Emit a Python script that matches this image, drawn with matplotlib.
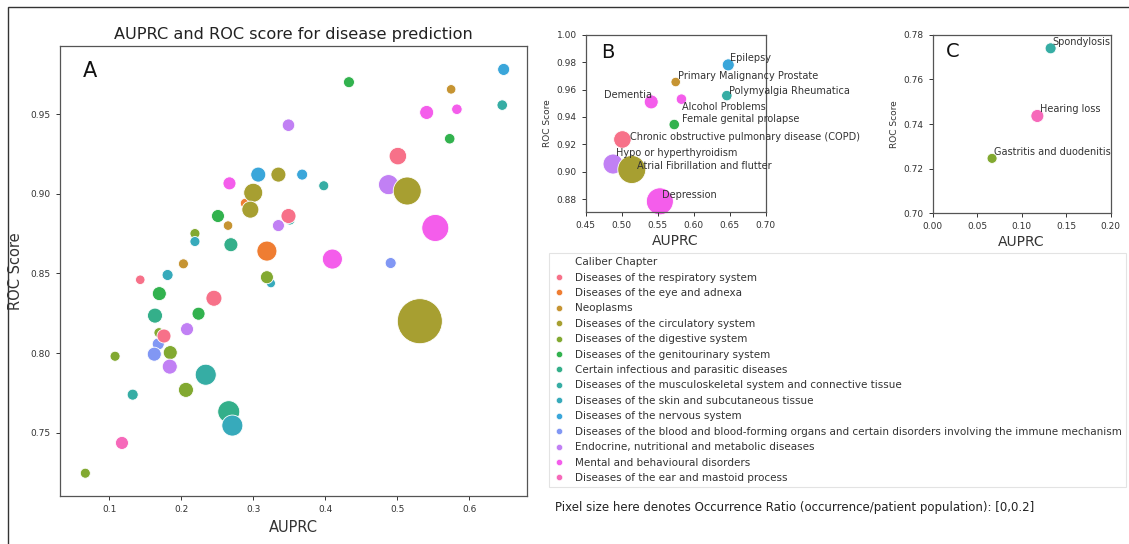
import matplotlib
matplotlib.use("Agg")
import matplotlib.pyplot as plt
from matplotlib.lines import Line2D
from matplotlib.patches import Rectangle
import numpy as np
import seaborn as sns

# Caliber chapters (hue order)
chapters = [
    "Diseases of the respiratory system",
    "Diseases of the eye and adnexa",
    "Neoplasms",
    "Diseases of the circulatory system",
    "Diseases of the digestive system",
    "Diseases of the genitourinary system",
    "Certain infectious and parasitic diseases",
    "Diseases of the musculoskeletal system and connective tissue",
    "Diseases of the skin and subcutaneous tissue",
    "Diseases of the nervous system",
    "Diseases of the blood and blood-forming organs and certain disorders involving the immune mechanism",
    "Endocrine, nutritional and metabolic diseases",
    "Mental and behavioural disorders",
    "Diseases of the ear and mastoid process",
]

# One entry per disease
disease = [
    "Epilepsy", "Polymyalgia Rheumatica", "", "Primary Malignancy Prostate",
    "Dementia", "Alcohol Problems", "Female genital prolapse",
    "Chronic obstructive pulmonary disease (COPD)", "Hypo or hyperthyroidism",
    "Atrial Fibrillation and flutter", "Depression", "", "", "", "",
    "", "", "", "", "", "", "", "",
    "", "", "", "", "", "", "", "",
    "", "", "", "", "", "", "", "",
    "", "", "", "", "", "", "", "",
    "", "", "", "", "Spondylosis", "", "", "Hearing loss",
    "Gastritis and duodenitis",
]
chapter_idx = [
    9, 7, 5, 2,
    12, 12, 5,
    0, 11,
    3, 12, 12, 10, 3, 7,
    11, 9, 3, 9, 12, 1, 3, 3,
    5, 2, 7, 0, 11, 4, 8, 6,
    1, 2, 8, 0, 8, 4, 5, 0,
    6, 5, 11, 4, 10, 0, 10, 4,
    4, 11, 7, 4, 7, 6, 8, 13,
    4,
]
auprc = [
    0.648, 0.646, 0.433, 0.575,
    0.541, 0.583, 0.573,
    0.501, 0.488,
    0.514, 0.553, 0.410, 0.491, 0.5315, 0.398,
    0.349, 0.307, 0.335, 0.368, 0.267, 0.289, 0.300, 0.296,
    0.251, 0.265, 0.351, 0.349, 0.335, 0.219, 0.219, 0.269,
    0.319, 0.203, 0.181, 0.143, 0.3246, 0.319, 0.1695, 0.2454,
    0.1635, 0.224, 0.208, 0.169, 0.168, 0.176, 0.1625, 0.1847,
    0.108, 0.184, 0.234, 0.2065, 0.1325, 0.266, 0.271, 0.1176,
    0.0667,
]
roc = [
    0.978, 0.9556, 0.970, 0.9655,
    0.951, 0.953, 0.9345,
    0.9236, 0.9057,
    0.9017, 0.8785, 0.859, 0.8565, 0.820, 0.905,
    0.943, 0.912, 0.912, 0.912, 0.9065, 0.894, 0.9006, 0.890,
    0.886, 0.880, 0.8835, 0.886, 0.880, 0.875, 0.870, 0.868,
    0.864, 0.856, 0.849, 0.846, 0.8438, 0.8476, 0.8373, 0.8344,
    0.8235, 0.8247, 0.815, 0.8128, 0.8057, 0.8107, 0.7993, 0.8003,
    0.798, 0.7915, 0.7864, 0.7769, 0.7739, 0.7632, 0.7545, 0.7436,
    0.7246,
]
# Occurrence ratio (occurrence / patient population)
occurrence = [
    0.0088, 0.0053, 0.0064, 0.0033,
    0.0140, 0.0053, 0.0053,
    0.0253, 0.0348,
    0.0738, 0.0682, 0.0348, 0.0064, 0.2000, 0.0043,
    0.0100, 0.0170, 0.0170, 0.0064, 0.0113, 0.0043, 0.0308, 0.0235,
    0.0113, 0.0033, 0.0043, 0.0170, 0.0088, 0.0043, 0.0043, 0.0140,
    0.0348, 0.0043, 0.0064, 0.0033, 0.0024, 0.0113, 0.0140, 0.0201,
    0.0170, 0.0113, 0.0113, 0.0043, 0.0088, 0.0140, 0.0140, 0.0140,
    0.0043, 0.0170, 0.0390, 0.0170, 0.0064, 0.0433, 0.0390, 0.0113,
    0.0043,
]

palette = sns.husl_palette(len(chapters))
colors = [palette[i] for i in chapter_idx]
x = np.array(auprc)
y = np.array(roc)


def ratio_to_area(r):
    # linear size scale over the ratio range [0, 0.2]
    return 30 + np.asarray(r) / 0.2 * 1020


areas = ratio_to_area(occurrence)

W, H = 1129, 544
fig = plt.figure(figsize=(W / 100, H / 100), dpi=100)
fig.patch.set_facecolor("white")

# outer frame
fig.add_artist(Rectangle((8 / W, -0.1), 1.2, (H - 7) / H + 0.1,
                         transform=fig.transFigure, fill=False,
                         edgecolor="#333333", linewidth=1.0))

spine_col = "#555555"


def style_axes(ax):
    for s in ax.spines.values():
        s.set_color(spine_col)
        s.set_linewidth(0.9)
    ax.tick_params(colors="#333333", length=3, width=0.7)


# ---- Panel A ----
axA = fig.add_axes([60 / W, 48 / H, 466.7 / W, 450 / H])
axA.scatter(x, y, s=areas, c=colors, edgecolors="white", linewidths=0.6)
axA.set_xlim(0.0315, 0.68)
axA.set_ylim(0.7103, 0.9927)
axA.set_xticks([0.1, 0.2, 0.3, 0.4, 0.5, 0.6])
axA.set_xticklabels(["0.1", "0.2", "0.3", "0.4", "0.5", "0.6"])
axA.set_yticks([0.75, 0.80, 0.85, 0.90, 0.95])
axA.set_yticklabels(["0.75", "0.80", "0.85", "0.90", "0.95"])
axA.tick_params(labelsize=6.5)
style_axes(axA)
axA.set_xlabel("AUPRC", fontsize=10.5, color="#333333", labelpad=4)
axA.set_ylabel("ROC Score", fontsize=10.5, color="#333333", labelpad=6)
axA.set_title("AUPRC and ROC score for disease prediction", fontsize=11.6,
              color="#222222", pad=5)
axA.text(0.049, 0.931, "A", transform=axA.transAxes, fontsize=15,
         color="#111111", va="baseline")

# label offsets in pixels (dx, dy of text centre from the marker)
label_offsets = {
    "Epilepsy": (1.7, 7.2, "left"),
    "Primary Malignancy Prostate": (2.6, 6.3, "left"),
    "Polymyalgia Rheumatica": (2.5, 4.9, "left"),
    "Dementia": (0.8, 6.9, "right"),
    "Alcohol Problems": (0.8, -7.6, "left"),
    "Female genital prolapse": (7.4, 5.2, "left"),
    "Chronic obstructive pulmonary disease (COPD)": (7.6, 2.7, "left"),
    "Hypo or hyperthyroidism": (2.9, 11.2, "left"),
    "Atrial Fibrillation and flutter": (4.9, 3.5, "left"),
    "Depression": (1.8, 6.3, "left"),
    "Spondylosis": (2.1, 6.7, "left"),
    "Hearing loss": (2.6, 6.7, "left"),
    "Gastritis and duodenitis": (2.2, 6.4, "left"),
}


def zoom_panel(ax, xlim, ylim, letter, letter_pos):
    m = (x >= xlim[0]) & (x <= xlim[1]) & (y >= ylim[0]) & (y <= ylim[1])
    idx = np.where(m)[0]
    ax.scatter(x[idx], y[idx], s=areas[idx], c=[colors[i] for i in idx],
               edgecolors="white", linewidths=0.6, clip_on=False)
    for i in idx:
        name = disease[i]
        if name in label_offsets:
            dx, dy, ha = label_offsets[name]
            ax.annotate(name, (x[i], y[i]), xytext=(dx * 0.72, dy * 0.72),
                        textcoords="offset points", ha=ha, va="center",
                        fontsize=7, color="#333333", clip_on=False)
    ax.set_xlim(*xlim)
    ax.set_ylim(*ylim)
    ax.tick_params(labelsize=6.5)
    style_axes(ax)
    ax.set_xlabel("AUPRC", fontsize=10, color="#333333", labelpad=3)
    ax.set_ylabel("ROC Score", fontsize=6.5, color="#333333", labelpad=3)
    ax.text(letter_pos[0], letter_pos[1], letter, transform=ax.transAxes,
            fontsize=14, color="#111111", va="baseline")


# ---- Panel B ----
axB = fig.add_axes([585.7 / W, (H - 212.3) / H, 180 / W, 177.6 / H])
zoom_panel(axB, (0.45, 0.70), (0.8705, 1.0), "B", (0.085, 0.87))
axB.set_xticks([0.45, 0.50, 0.55, 0.60, 0.65, 0.70])
axB.set_xticklabels(["0.45", "0.50", "0.55", "0.60", "0.65", "0.70"])
axB.set_yticks([0.88, 0.90, 0.92, 0.94, 0.96, 0.98, 1.00])
axB.set_yticklabels(["0.88", "0.90", "0.92", "0.94", "0.96", "0.98", "1.00"])

# ---- Panel C ----
axC = fig.add_axes([932.7 / W, (H - 213.3) / H, 178 / W, 178.6 / H])
zoom_panel(axC, (0.0, 0.20), (0.70, 0.78), "C", (0.075, 0.873))
axC.set_xticks([0.00, 0.05, 0.10, 0.15, 0.20])
axC.set_xticklabels(["0.00", "0.05", "0.10", "0.15", "0.20"])
axC.set_yticks([0.70, 0.72, 0.74, 0.76, 0.78])
axC.set_yticklabels(["0.70", "0.72", "0.74", "0.76", "0.78"])

# ---- Legend ----
handles = [Line2D([], [], linestyle="none", marker="", label="Caliber Chapter")]
for c, lab in zip(palette, chapters):
    handles.append(Line2D([], [], linestyle="none", marker="o", markersize=4.5,
                          markerfacecolor=c, markeredgecolor="white",
                          markeredgewidth=0.4, label=lab))
leg = fig.legend(handles=handles, loc="upper left",
                 bbox_to_anchor=(549 / W, (H - 253) / H), borderaxespad=0,
                 fontsize=7.5, labelspacing=0.52, handlelength=1.1,
                 handletextpad=1.0, borderpad=0.4, frameon=True,
                 fancybox=False)
leg.get_frame().set_edgecolor("#dddddd")
leg.get_frame().set_linewidth(0.8)
for t in leg.get_texts():
    t.set_color("#333333")

fig.text(555 / W, (H - 508) / H,
         "Pixel size here denotes Occurrence Ratio (occurrence/patient population): [0,0.2]",
         fontsize=8.5, color="#222222", va="center", ha="left")

fig.savefig("out.png", dpi=100, facecolor="white")
